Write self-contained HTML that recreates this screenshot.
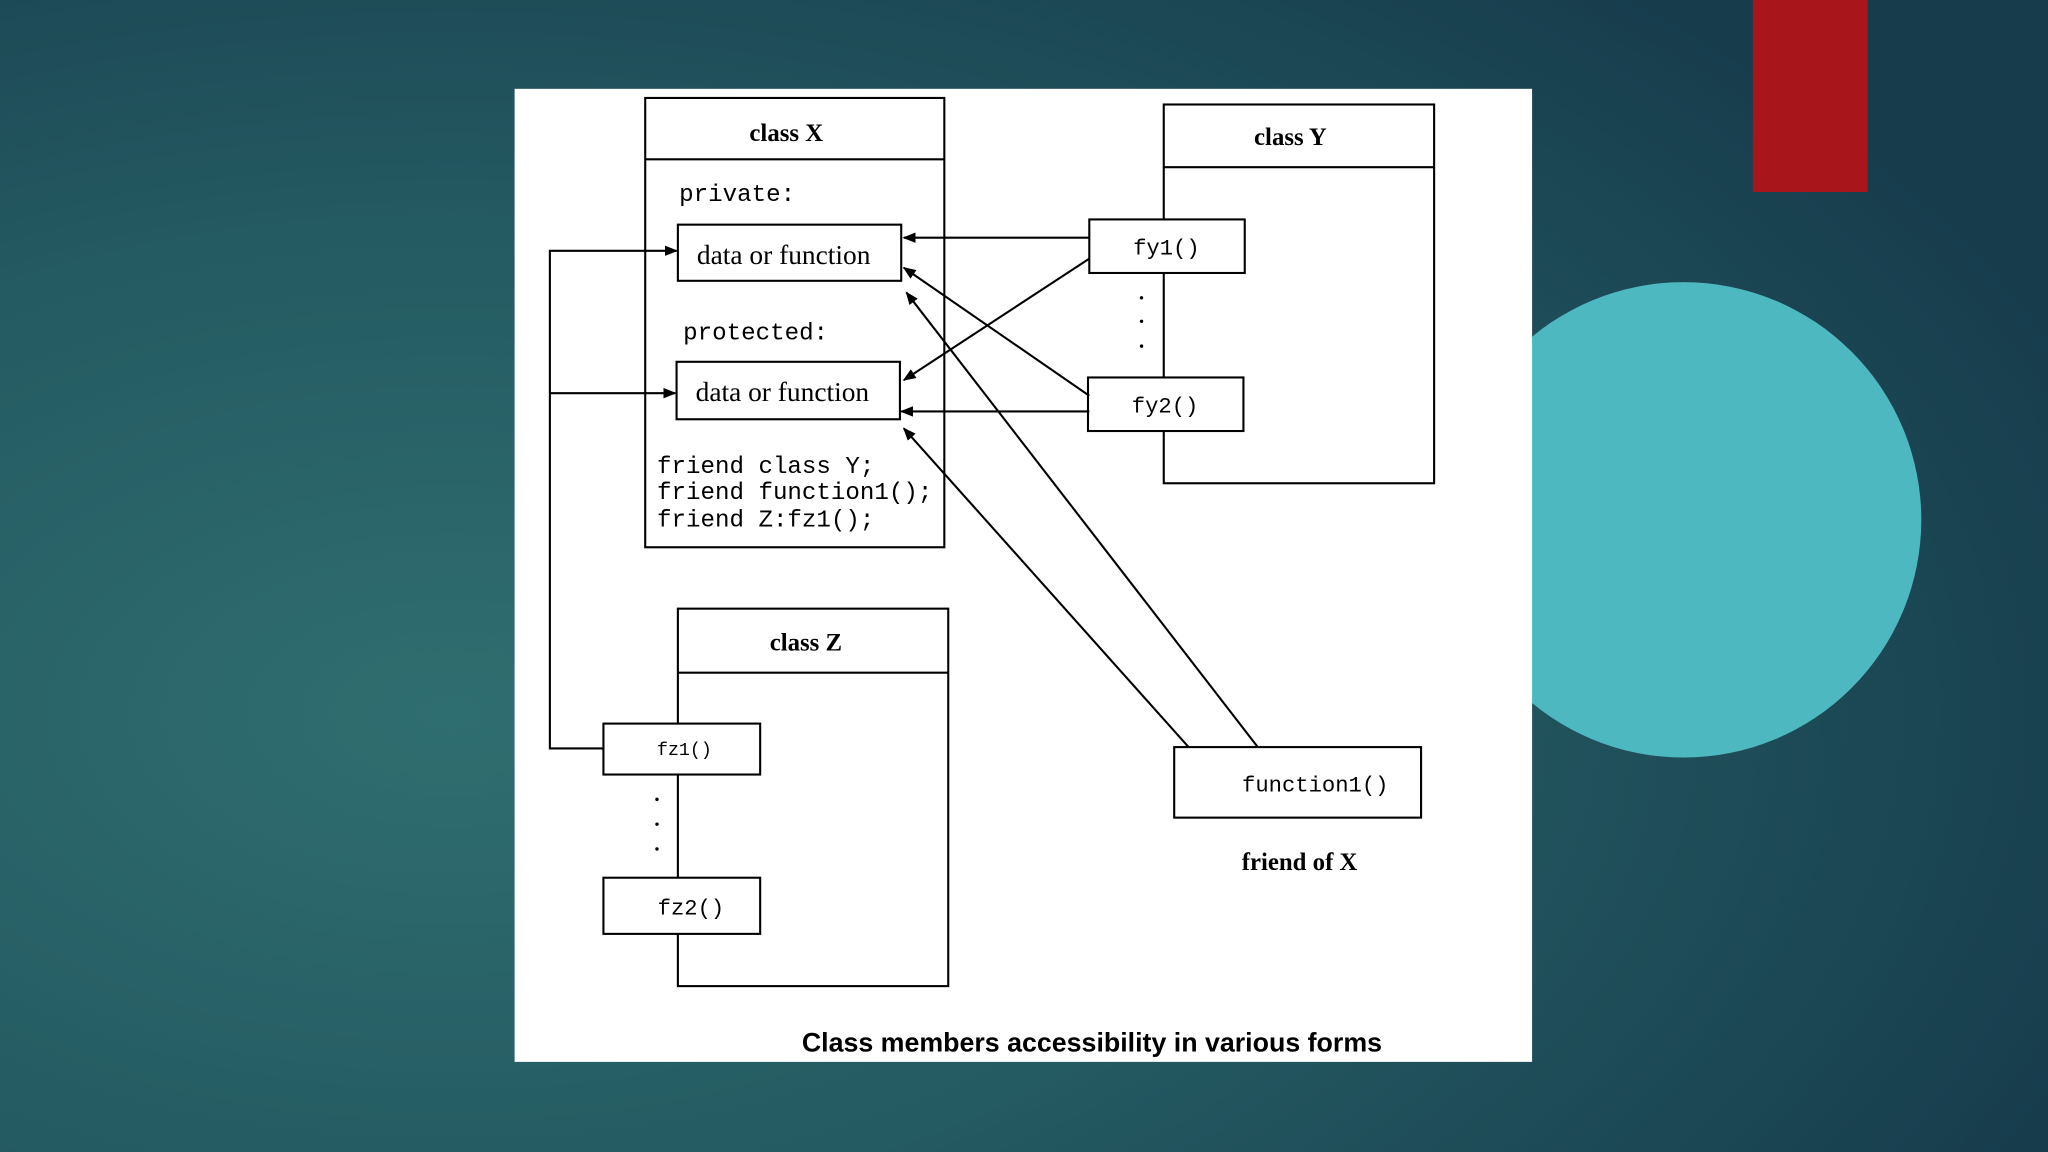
<!DOCTYPE html>
<html><head><meta charset="utf-8"><style>
html,body{margin:0;padding:0;width:2048px;height:1152px;overflow:hidden;}
svg{display:block}
</style></head><body>
<svg width="2048" height="1152" viewBox="0 0 1568 882" xmlns="http://www.w3.org/2000/svg">
<defs>
<radialGradient id="bg" cx="0.22" cy="0.62" r="0.85">
<stop offset="0" stop-color="#2f6e70"/>
<stop offset="0.5" stop-color="#245a62"/>
<stop offset="1" stop-color="#173d4d"/>
</radialGradient>
<marker id="ah" markerWidth="10" markerHeight="8" refX="9" refY="4" orient="auto" markerUnits="userSpaceOnUse">
<path d="M0,0 L10,4 L0,8 z" fill="#000"/>
</marker>
</defs>
<rect width="1568" height="882" fill="url(#bg)"/>
<rect x="1342" y="0" width="88" height="147" fill="#a8151a"/>
<circle cx="1289" cy="398" r="182" fill="#4db8c0"/>
<rect x="394" y="68" width="779" height="745" fill="#fff"/>
<g fill="none" stroke="#000" stroke-width="1.6">
<rect x="494" y="75" width="229" height="344"/><line x1="494" y1="122" x2="723" y2="122"/>
<rect x="519" y="172" width="171" height="43"/>
<rect x="518" y="277" width="171" height="44"/>
<rect x="891" y="80" width="207" height="290"/><line x1="891" y1="128" x2="1098" y2="128"/>
<rect x="834" y="168" width="119" height="41" fill="#fff"/>
<rect x="833" y="289" width="119" height="41" fill="#fff"/>
<rect x="519" y="466" width="207" height="289"/><line x1="519" y1="515" x2="726" y2="515"/>
<rect x="462" y="554" width="120" height="39" fill="#fff"/>
<rect x="462" y="672" width="120" height="43" fill="#fff"/>
<rect x="899" y="572" width="189" height="54"/>
<line x1="834" y1="182" x2="692" y2="182" marker-end="url(#ah)"/>
<line x1="834" y1="198" x2="692" y2="291" marker-end="url(#ah)"/>
<line x1="834" y1="303" x2="692" y2="205" marker-end="url(#ah)"/>
<line x1="834" y1="315" x2="690" y2="315" marker-end="url(#ah)"/>
<line x1="963" y1="572" x2="694" y2="224" marker-end="url(#ah)"/>
<line x1="910" y1="572" x2="692" y2="328" marker-end="url(#ah)"/>
<polyline points="462,573 421,573 421,192 518,192" marker-end="url(#ah)"/>
<line x1="421" y1="301" x2="517" y2="301" marker-end="url(#ah)"/>
</g>
<g fill="#000">
<circle cx="874" cy="228" r="1.3"/><circle cx="874" cy="246" r="1.3"/><circle cx="874" cy="265" r="1.3"/>
<circle cx="503" cy="612" r="1.3"/><circle cx="503" cy="631" r="1.3"/><circle cx="503" cy="650" r="1.3"/>
</g>
<g font-family="Liberation Serif, serif" font-size="19" fill="#000" text-anchor="middle">
<text x="602" y="108" font-weight="bold">class X</text>
<text x="988" y="111" font-weight="bold">class Y</text>
<text x="617" y="498" font-weight="bold">class Z</text>
<text x="995" y="666" font-weight="bold">friend of X</text>
<text x="600" y="202" font-size="21">data or function</text>
<text x="599" y="307" font-size="21">data or function</text>
</g>
<g font-family="Liberation Mono, monospace" font-size="18.5" fill="#000">
<text x="520" y="154">private:</text>
<text x="523" y="260">protected:</text>
<text x="503" y="362">friend class Y;</text>
<text x="503" y="382">friend function1();</text>
<text x="503" y="403">friend Z:fz1();</text>
<text x="893" y="195" text-anchor="middle" font-size="17">fy1()</text>
<text x="892" y="316" text-anchor="middle" font-size="17">fy2()</text>
<text x="524" y="578" text-anchor="middle" font-size="14">fz1()</text>
<text x="529" y="700" text-anchor="middle" font-size="17">fz2()</text>
<text x="1007" y="606" text-anchor="middle" font-size="17">function1()</text>
</g>
<text x="836" y="805" text-anchor="middle" font-family="Liberation Sans, sans-serif" font-weight="bold" font-size="20.5" fill="#000">Class members accessibility in various forms</text>
</svg>
</body></html>
